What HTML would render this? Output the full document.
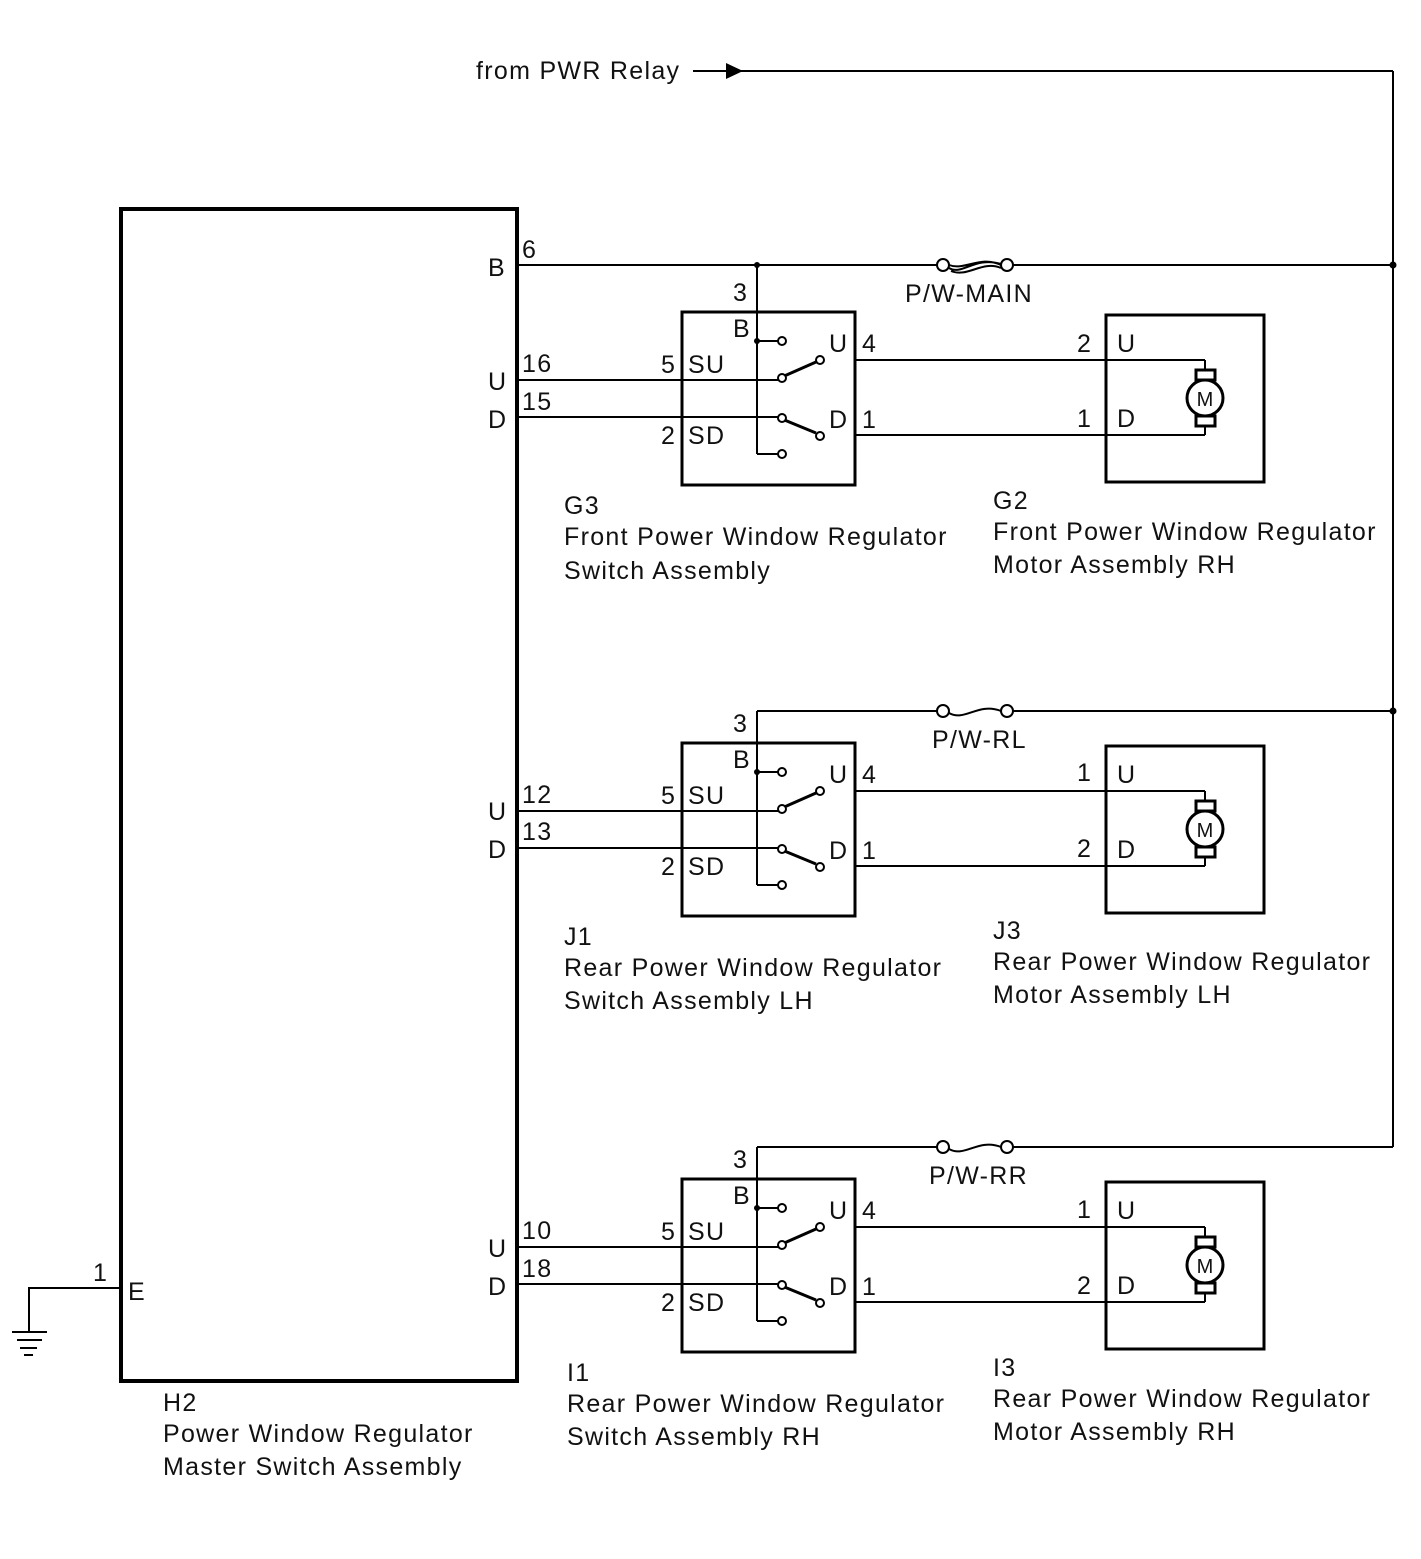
<!DOCTYPE html>
<html><head><meta charset="utf-8"><style>
html,body{margin:0;padding:0;background:#fff}
svg{display:block}
text{font-family:"Liberation Sans",Arial,sans-serif;font-size:25px;fill:#111;letter-spacing:1.3px}
</style></head><body>
<svg width="1421" height="1559" viewBox="0 0 1421 1559" xmlns="http://www.w3.org/2000/svg">
<defs>
<g id="sw">
  <rect x="682" y="312" width="173" height="173" fill="none" stroke="#000" stroke-width="3"/>
  <line x1="757" y1="280" x2="757" y2="454" stroke="#000" stroke-width="2"/>
  <line x1="757" y1="341" x2="778" y2="341" stroke="#000" stroke-width="2"/>
  <line x1="757" y1="454" x2="778" y2="454" stroke="#000" stroke-width="2"/>
  <circle cx="757" cy="341" r="3" fill="#000"/>
  <circle cx="782" cy="341" r="4" fill="#fff" stroke="#000" stroke-width="2"/>
  <circle cx="782" cy="454" r="4" fill="#fff" stroke="#000" stroke-width="2"/>
  <line x1="517" y1="380" x2="778" y2="380" stroke="#000" stroke-width="2"/>
  <line x1="517" y1="417" x2="778" y2="417" stroke="#000" stroke-width="2"/>
  <line x1="782" y1="377" x2="816" y2="362" stroke="#000" stroke-width="3"/>
  <line x1="782" y1="419" x2="816" y2="433" stroke="#000" stroke-width="3"/>
  <circle cx="782" cy="378" r="4" fill="#fff" stroke="#000" stroke-width="2"/>
  <circle cx="820" cy="360" r="4" fill="#fff" stroke="#000" stroke-width="2"/>
  <circle cx="782" cy="418" r="4" fill="#fff" stroke="#000" stroke-width="2"/>
  <circle cx="820" cy="436" r="4" fill="#fff" stroke="#000" stroke-width="2"/>
  <line x1="855" y1="360" x2="1205" y2="360" stroke="#000" stroke-width="2"/>
  <line x1="855" y1="435" x2="1205" y2="435" stroke="#000" stroke-width="2"/>
  <text x="733" y="301">3</text>
  <text x="733" y="337">B</text>
  <text x="661" y="373">5</text><text x="688" y="373">SU</text>
  <text x="661" y="444">2</text><text x="688" y="444">SD</text>
  <text x="829" y="352">U</text><text x="862" y="352">4</text>
  <text x="829" y="428">D</text><text x="862" y="428">1</text>
  <rect x="1106" y="315" width="158" height="167" fill="none" stroke="#000" stroke-width="3"/>
  <line x1="1205" y1="360" x2="1205" y2="370" stroke="#000" stroke-width="2"/>
  <line x1="1205" y1="426" x2="1205" y2="435" stroke="#000" stroke-width="2"/>
  <rect x="1196" y="370" width="19" height="10" fill="#fff" stroke="#000" stroke-width="3"/>
  <rect x="1196" y="416" width="19" height="10" fill="#fff" stroke="#000" stroke-width="3"/>
  <circle cx="1205" cy="398" r="18" fill="#fff" stroke="#000" stroke-width="3"/>
  <text x="1205" y="406" text-anchor="middle" style="font-size:20px;letter-spacing:0">M</text>
  <text x="1117" y="352">U</text>
  <text x="1117" y="427">D</text>
</g>
</defs>
<!-- top feed -->
<text x="476" y="79">from PWR Relay</text>
<line x1="693" y1="71" x2="1393" y2="71" stroke="#000" stroke-width="2"/>
<polygon points="726,63 743,71 726,79" fill="#000"/>
<line x1="1393" y1="71" x2="1393" y2="1147" stroke="#000" stroke-width="2"/>
<!-- master -->
<rect x="121" y="209" width="396" height="1172" fill="none" stroke="#000" stroke-width="4"/>
<text x="488" y="276">B</text><text x="522" y="258">6</text>
<!-- row1 -->
<line x1="517" y1="265" x2="937" y2="265" stroke="#000" stroke-width="2"/>
<line x1="1013" y1="265" x2="1393" y2="265" stroke="#000" stroke-width="2"/>
<line x1="757" y1="265" x2="757" y2="281" stroke="#000" stroke-width="2"/>
<circle cx="757" cy="265" r="3" fill="#000"/>
<circle cx="1393" cy="265" r="3.5" fill="#000"/>
<circle cx="943" cy="265" r="6" fill="#fff" stroke="#000" stroke-width="2"/>
<circle cx="1007" cy="265" r="6" fill="#fff" stroke="#000" stroke-width="2"/>
<path d="M949,268 C962,276 975,256 1001,264 M949,265 C965,271 980,255 1001,265 M951,271 C968,278 982,260 1001,268" fill="none" stroke="#000" stroke-width="2"/>
<text x="905" y="302">P/W-MAIN</text>
<use href="#sw"/>
<text x="488" y="390">U</text><text x="488" y="428">D</text>
<text x="522" y="372">16</text><text x="522" y="410">15</text>
<text x="1077" y="352">2</text><text x="1077" y="427">1</text>
<text x="564" y="514">G3</text>
<text x="564" y="545">Front Power Window Regulator</text>
<text x="564" y="579">Switch Assembly</text>
<text x="993" y="509">G2</text>
<text x="993" y="540">Front Power Window Regulator</text>
<text x="993" y="573">Motor Assembly RH</text>
<!-- row2 -->
<line x1="757" y1="711" x2="937" y2="711" stroke="#000" stroke-width="2"/>
<line x1="1013" y1="711" x2="1393" y2="711" stroke="#000" stroke-width="2"/>
<circle cx="1393" cy="711" r="3.5" fill="#000"/>
<circle cx="943" cy="711" r="6" fill="#fff" stroke="#000" stroke-width="2"/>
<circle cx="1007" cy="711" r="6" fill="#fff" stroke="#000" stroke-width="2"/>
<path d="M949,713 C965,722 978,702 1001,711" fill="none" stroke="#000" stroke-width="2"/>
<text x="932" y="748">P/W-RL</text>
<g transform="translate(0,431)"><use href="#sw"/></g>
<text x="488" y="820">U</text><text x="488" y="858">D</text>
<text x="522" y="803">12</text><text x="522" y="840">13</text>
<text x="1077" y="781">1</text><text x="1077" y="857">2</text>
<text x="564" y="945">J1</text>
<text x="564" y="976">Rear Power Window Regulator</text>
<text x="564" y="1009">Switch Assembly LH</text>
<text x="993" y="939">J3</text>
<text x="993" y="970">Rear Power Window Regulator</text>
<text x="993" y="1003">Motor Assembly LH</text>
<!-- row3 -->
<line x1="757" y1="1147" x2="937" y2="1147" stroke="#000" stroke-width="2"/>
<line x1="1013" y1="1147" x2="1393" y2="1147" stroke="#000" stroke-width="2"/>
<circle cx="943" cy="1147" r="6" fill="#fff" stroke="#000" stroke-width="2"/>
<circle cx="1007" cy="1147" r="6" fill="#fff" stroke="#000" stroke-width="2"/>
<path d="M949,1149 C965,1158 978,1138 1001,1147" fill="none" stroke="#000" stroke-width="2"/>
<text x="929" y="1184">P/W-RR</text>
<g transform="translate(0,867)"><use href="#sw"/></g>
<text x="488" y="1257">U</text><text x="488" y="1295">D</text>
<text x="522" y="1239">10</text><text x="522" y="1277">18</text>
<text x="1077" y="1218">1</text><text x="1077" y="1294">2</text>
<text x="567" y="1381">I1</text>
<text x="567" y="1412">Rear Power Window Regulator</text>
<text x="567" y="1445">Switch Assembly RH</text>
<text x="993" y="1376">I3</text>
<text x="993" y="1407">Rear Power Window Regulator</text>
<text x="993" y="1440">Motor Assembly RH</text>
<!-- ground -->
<polyline points="121,1288 29,1288 29,1332" fill="none" stroke="#000" stroke-width="2"/>
<line x1="12" y1="1332" x2="47" y2="1332" stroke="#000" stroke-width="2"/>
<line x1="17" y1="1340" x2="42" y2="1340" stroke="#000" stroke-width="2"/>
<line x1="20" y1="1348" x2="37" y2="1348" stroke="#000" stroke-width="2"/>
<line x1="24" y1="1355" x2="33" y2="1355" stroke="#000" stroke-width="2"/>
<text x="93" y="1281">1</text><text x="128" y="1300">E</text>
<text x="163" y="1411">H2</text>
<text x="163" y="1442">Power Window Regulator</text>
<text x="163" y="1475">Master Switch Assembly</text>
</svg>
</body></html>
